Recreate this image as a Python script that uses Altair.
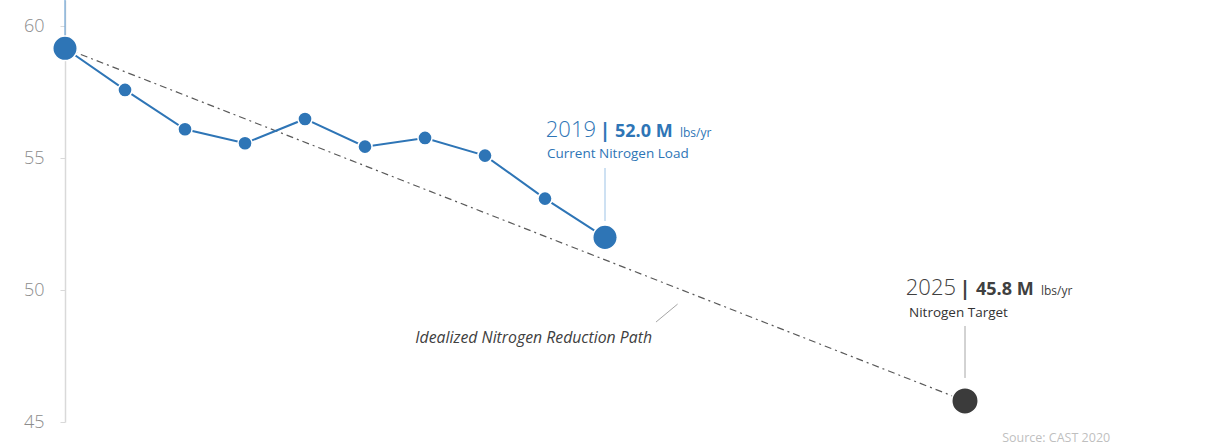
import altair as alt
import pandas as pd

# ---- data ----
years = [2010, 2011, 2012, 2013, 2014, 2015, 2016, 2017, 2018, 2019]
loads = [59.17, 57.59, 56.10, 55.57, 56.49, 55.44, 55.77, 55.10, 53.47, 52.0]
target_year = 2025
target_load = 45.8
ideal_years = [2010, 2025]
ideal_loads = [59.17, 45.8]
y_ticks = [45, 50, 55, 60]

BLUE = "#2e75b6"
DARK = "#404040"
FONT = "Open Sans"

hist = pd.DataFrame({"year": years, "load": loads})
big = hist.iloc[[0, -1]]
small = hist.iloc[1:-1]
target = pd.DataFrame({"year": [target_year], "load": [target_load]})
ideal = pd.DataFrame({"year": ideal_years, "load": ideal_loads})

xs = alt.Scale(domain=[2010, 2029], nice=False, zero=False)
ys = alt.Scale(domain=[45, 61], nice=False, zero=False)

X = alt.X("year:Q", scale=xs, axis=None)
Y = alt.Y("load:Q", scale=ys, title=None,
          axis=alt.Axis(values=y_ticks, grid=False, domainColor="#d9d9d9", domainWidth=1.5,
                        tickColor="#d9d9d9", tickSize=5, tickWidth=1,
                        labelFontSize=18, labelColor="#8c8c8c", labelFont=FONT,
                        labelPadding=16, labelFontWeight=300, title=None))

ideal_line = alt.Chart(ideal).mark_line(color="#595959", strokeWidth=1.2,
                                        strokeDash=[7, 4, 2, 4]).encode(x=X, y=Y)
line = alt.Chart(hist).mark_line(color=BLUE, strokeWidth=2).encode(x=X, y=Y)
pts_small = alt.Chart(small).mark_circle(color=BLUE, size=200, opacity=1,
                                         stroke="white", strokeWidth=1.5).encode(x=X, y=Y)
pts_big = alt.Chart(big).mark_circle(color=BLUE, size=600, opacity=1,
                                     stroke="white", strokeWidth=1.5).encode(x=X, y=Y)
pt_target = alt.Chart(target).mark_circle(color="#3b3b3b", size=700, opacity=1,
                                          stroke="white", strokeWidth=1.5).encode(x=X, y=Y)


def rule(x1, y1, x2, y2, color):
    df = pd.DataFrame({"year": [x1], "load": [y1], "year2": [x2], "load2": [y2]})
    return alt.Chart(df).mark_rule(color=color, strokeWidth=1).encode(
        x=X, y=Y, x2="year2:Q", y2="load2:Q")


def txt(x, y, s, dx=0, size=13, color=DARK, weight="normal", align="left", style="normal"):
    df = pd.DataFrame({"year": [x], "load": [y], "label": [s]})
    return alt.Chart(df).mark_text(dx=dx, fontSize=size, color=color, font=FONT,
                                   fontWeight=weight, align=align, baseline="alphabetic",
                                   fontStyle=style).encode(x=X, y=Y, text="label:N")


leaders = [
    rule(2010, 61, 2010, 59.6, "#5b9bd5"),
    rule(2019, 54.63, 2019, 52.62, "#9dc3e6"),
    rule(2025, 48.64, 2025, 46.67, "#a6a6a6"),
    rule(2020.21, 49.47, 2019.85, 48.79, "#a6a6a6"),
]

texts = [
    txt(2019, 55.81, "2019", dx=-9, size=22, color=BLUE, weight=300, align="right"),
    txt(2019, 55.81, "|", dx=0, size=20, color=BLUE, weight="bold", align="center"),
    txt(2019, 55.81, "52.0 M", dx=10, size=18, color=BLUE, weight="bold"),
    txt(2019, 55.81, "lbs/yr", dx=75, size=12, color=BLUE),
    txt(2019, 55.01, "Current Nitrogen Load", dx=-58, size=13.5, color=BLUE),
    txt(2025, 49.82, "2025", dx=-9, size=22, color=DARK, weight=300, align="right"),
    txt(2025, 49.82, "|", dx=0, size=20, color=DARK, weight="bold", align="center"),
    txt(2025, 49.82, "45.8 M", dx=11, size=18, color=DARK, weight="bold"),
    txt(2025, 49.82, "lbs/yr", dx=76, size=12, color=DARK),
    txt(2025, 49.0, "Nitrogen Target", dx=-56, size=13.5, color="#333333"),
    txt(2017.81, 48.0, "Idealized Nitrogen Reduction Path", size=15.8, color=DARK,
        align="center", style="italic"),
    txt(2027.42, 44.25, "Source: CAST 2020", size=12.5, color="#bfbfbf", align="right"),
]

chart = alt.layer(ideal_line, line, *leaders, pts_small, pts_big, pt_target, *texts).properties(
    width=1140, height=422,
    background="white",
    autosize=alt.AutoSizeParams(type="none"),
    padding={"left": 65, "top": 0, "right": 7, "bottom": 26},
).configure_view(stroke=None)

chart.save("out.html", embed_options={"renderer": "svg", "actions": False})
